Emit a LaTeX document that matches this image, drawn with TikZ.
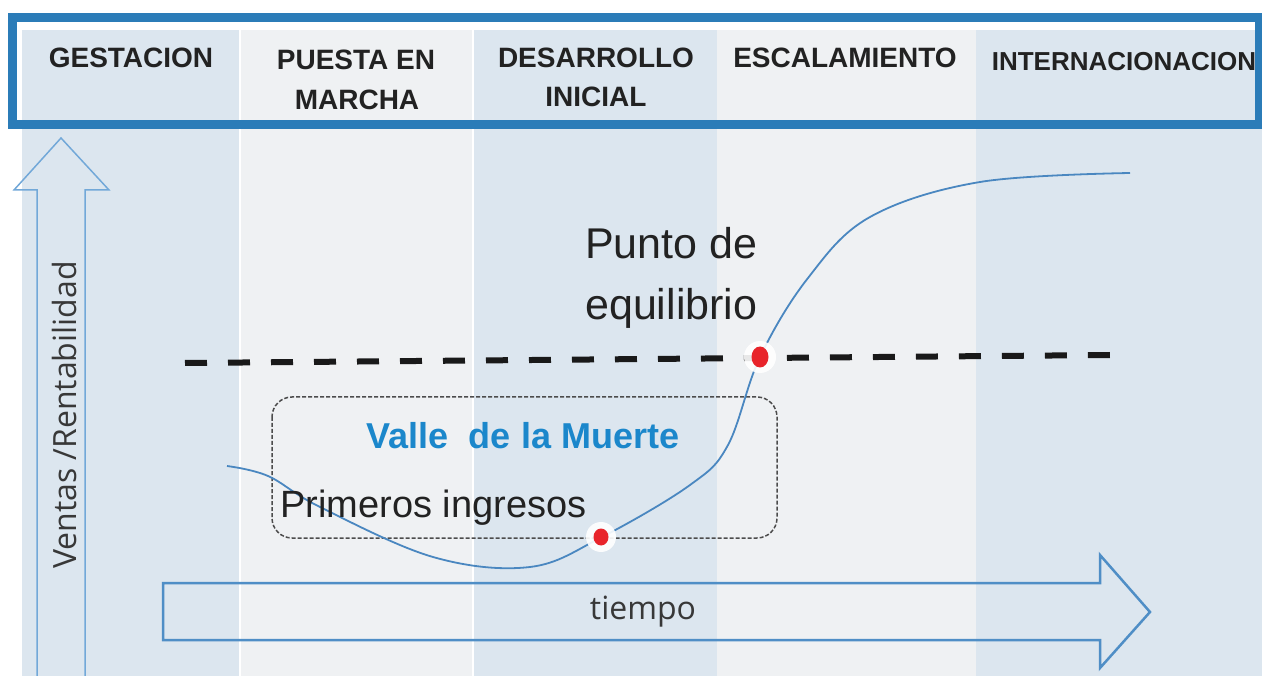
\documentclass[tikz,border=0pt]{standalone}
\usepackage{fontspec}
\setmainfont{Liberation Sans}
\newfontfamily\opensans{Open Sans}
\definecolor{colblue}{HTML}{DCE6EF}
\definecolor{colgray}{HTML}{EFF1F3}
\definecolor{framecol}{HTML}{2B7CB8}
\definecolor{arrowcol}{HTML}{72A8D8}
\definecolor{timecol}{HTML}{4F8EC6}
\definecolor{curvecol}{HTML}{4A87C0}
\definecolor{vallecol}{HTML}{1B87CB}
\definecolor{dotred}{HTML}{E8242B}
\definecolor{txtdark}{HTML}{222222}
\tikzset{
  stage/.style = {font=\bfseries\fontsize{28}{34}\selectfont, text=txtdark,
                  inner sep=0pt, anchor=base},
  halo/.style  = {circle, fill=white, fill opacity=0.9, minimum size=#1,
                  inner sep=0pt, outer sep=0pt},
  halo/.default = 32pt,
  redpt/.style = {ellipse, fill=dotred, minimum width=16pt, minimum height=19pt,
                  inner sep=0pt, outer sep=0pt}
}
\usetikzlibrary{shapes.geometric}

\begin{document}
\begin{tikzpicture}[x=1pt, y=-1pt]
	\def \top{30}
	\def \bot{680}
	\useasboundingbox (0,0) rectangle (1262,676);
	\clip (0,0) rectangle (1262,676);

	% Columns
	\fill[colblue] (22,\top)  rectangle (240,\bot);  % gestacion
	\fill[colgray] (240,\top) rectangle (473,\bot);  % puesta en marcha
	\fill[colblue] (473,\top) rectangle (717,\bot);  % desarrollo inicial
	\fill[colgray] (717,\top) rectangle (976,\bot);  % escalamiento
	\fill[colblue] (976,\top) rectangle (1262,\bot); % internacionacion
	\draw[white, line width=2] (240,\top) -- (240,\bot);
	\draw[white, line width=2.5] (473,\top) -- (473,\bot);

	% Frame
	\draw[framecol, line width=9] (12,17.5) rectangle (1259,124.5);

	% Stages
	\node[stage] (gest) at (131,68) {GESTACION};
	\node[stage] (puesta) at (356,70) {PUESTA EN};
	\node[stage] (marcha) at (357,110) {MARCHA};
	\node[stage] (desar) at (596,68) {DESARROLLO};
	\node[stage] (inicial) at (596,107) {INICIAL};
	\node[stage] (escal) at (845,68) {ESCALAMIENTO};
	\node[stage, font=\bfseries\fontsize{26}{30}\selectfont] (intern) at (1124,71) {INTERNACIONACION};

	% Axes
	\draw[arrowcol, line width=1.5] (37,\bot) -- (37,190) -- (14,190) -- (61,138)
	     -- (109,190) -- (85,190) -- (85,\bot);
	\node[rotate=90, font=\opensans\fontsize{32}{36}\selectfont, text=txtdark!90] (ventas) at (64,415) {Ventas /Rentabilidad};
	\draw[timecol, line width=2.5] (163,583) -- (1100,583) -- (1100,555) -- (1150,612)
	     -- (1100,668) -- (1100,640) -- (163,640) -- cycle;
	\node[font=\opensans\fontsize{32}{36}\selectfont, text=txtdark!90] (tiempo) at (643,612) {tiempo};

	% Break-even line
	\draw[black!90, line width=6, dash pattern=on 22pt off 21pt] (185,363) -- (1110,355);

	% Valley box
	\draw[black!70, line width=1.5, dash pattern=on 4pt off 2pt, rounded corners=20pt]
	     (272,397) rectangle (777,538);
	\node[font=\bfseries\fontsize{36}{40}\selectfont, text=vallecol, anchor=base] (valle) at (523,448) {Valle\ \ de la Muerte};

	% Curve
	\draw[curvecol, line width=1.8] plot[smooth, tension=0.6] coordinates {
	     (227,466) (268,476) (320,507) (433,557) (530,567) (602,537) (690,485)
	     (728,445) (760,357) (808,278) (870,217) (980,182) (1130,173)};

	% Dots
	\node[halo=30pt] (ingresos) at (601,537) {};
	\node[redpt, minimum width=15pt, minimum height=17pt] (ingresosdot) at (ingresos) {};
	\node[halo] (equil) at (760,357) {};
	\node[redpt, minimum width=17pt, minimum height=21pt] (equildot) at (equil) {};

	% Labels
	\node[font=\fontsize{38}{42}\selectfont, text=txtdark, anchor=base west, inner sep=0pt] (primeros) at (280,517) {Primeros ingresos};
	\node[font=\fontsize{43}{48}\selectfont, text=txtdark, anchor=base west, inner sep=0pt] (punto) at (585,259) {Punto de};
	\node[font=\fontsize{43}{48}\selectfont, text=txtdark, anchor=base west, inner sep=0pt] (equilibrio) at (585,320) {equilibrio};

\end{tikzpicture}
\end{document}
